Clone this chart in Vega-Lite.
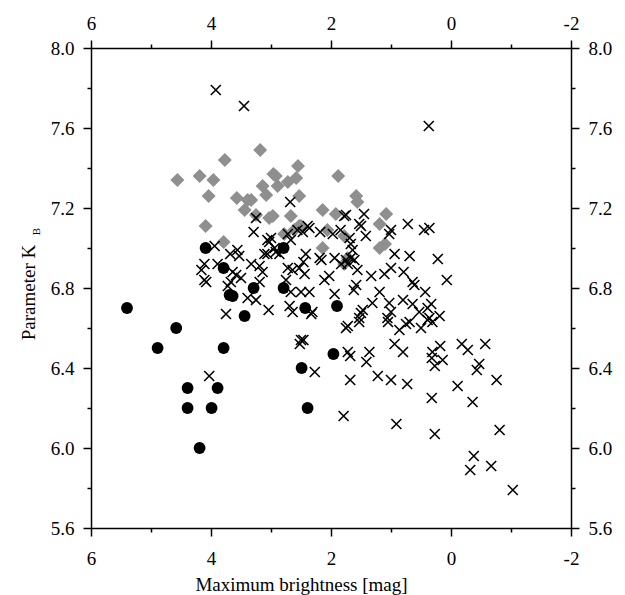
{
  "$schema": "https://vega.github.io/schema/vega-lite/v6.json",
  "width": 480,
  "height": 480,
  "autosize": "none",
  "padding": {"left": 91, "top": 48, "right": 54, "bottom": 67},
  "background": "white",
  "config": {
    "view": {"stroke": null},
    "axis": {
      "grid": false,
      "domainColor": "black",
      "domainWidth": 1.5,
      "tickColor": "black",
      "tickWidth": 1.5,
      "labelFont": "Liberation Serif",
      "labelFontSize": 19,
      "labelColor": "black",
      "titleFont": "Liberation Serif",
      "titleFontSize": 19,
      "titleFontWeight": "normal",
      "titleColor": "black",
      "labelFlush": false,
      "labelOverlap": false
    }
  },
  "data": {
    "values": [
      {"group": "circle", "mag": 5.4, "kb": 6.7},
      {"group": "circle", "mag": 4.58, "kb": 6.6},
      {"group": "circle", "mag": 4.89, "kb": 6.5},
      {"group": "circle", "mag": 3.79, "kb": 6.5},
      {"group": "circle", "mag": 4.39, "kb": 6.3},
      {"group": "circle", "mag": 3.89, "kb": 6.3},
      {"group": "circle", "mag": 4.39, "kb": 6.2},
      {"group": "circle", "mag": 3.99, "kb": 6.2},
      {"group": "circle", "mag": 4.19, "kb": 6.0},
      {"group": "circle", "mag": 2.39, "kb": 6.2},
      {"group": "circle", "mag": 2.49, "kb": 6.4},
      {"group": "circle", "mag": 3.44, "kb": 6.66},
      {"group": "circle", "mag": 3.64, "kb": 6.76},
      {"group": "circle", "mag": 3.69, "kb": 6.765},
      {"group": "circle", "mag": 3.29, "kb": 6.8},
      {"group": "circle", "mag": 2.79, "kb": 6.8},
      {"group": "circle", "mag": 2.43, "kb": 6.7},
      {"group": "circle", "mag": 4.09, "kb": 7.0},
      {"group": "circle", "mag": 3.79, "kb": 6.9},
      {"group": "circle", "mag": 2.79, "kb": 7.0},
      {"group": "circle", "mag": 1.9, "kb": 6.71},
      {"group": "circle", "mag": 1.96, "kb": 6.47},

      {"group": "diamond", "mag": 4.56, "kb": 7.34},
      {"group": "diamond", "mag": 4.19, "kb": 7.36},
      {"group": "diamond", "mag": 3.77, "kb": 7.44},
      {"group": "diamond", "mag": 3.96, "kb": 7.34},
      {"group": "diamond", "mag": 4.04, "kb": 7.26},
      {"group": "diamond", "mag": 4.09, "kb": 7.11},
      {"group": "diamond", "mag": 3.79, "kb": 7.03},
      {"group": "diamond", "mag": 3.57, "kb": 7.25},
      {"group": "diamond", "mag": 3.39, "kb": 7.24},
      {"group": "diamond", "mag": 3.44, "kb": 7.19},
      {"group": "diamond", "mag": 3.14, "kb": 7.31},
      {"group": "diamond", "mag": 3.18, "kb": 7.49},
      {"group": "diamond", "mag": 2.96, "kb": 7.37},
      {"group": "diamond", "mag": 2.92, "kb": 7.36},
      {"group": "diamond", "mag": 3.03, "kb": 7.15},
      {"group": "diamond", "mag": 3.25, "kb": 7.165},
      {"group": "diamond", "mag": 3.08, "kb": 7.265},
      {"group": "diamond", "mag": 2.89, "kb": 7.31},
      {"group": "diamond", "mag": 2.72, "kb": 7.33},
      {"group": "diamond", "mag": 2.58, "kb": 7.35},
      {"group": "diamond", "mag": 2.55, "kb": 7.41},
      {"group": "diamond", "mag": 2.53, "kb": 7.26},
      {"group": "diamond", "mag": 2.67, "kb": 7.16},
      {"group": "diamond", "mag": 2.53, "kb": 7.11},
      {"group": "diamond", "mag": 2.78, "kb": 7.07},
      {"group": "diamond", "mag": 2.61, "kb": 7.09},
      {"group": "diamond", "mag": 2.97, "kb": 7.16},
      {"group": "diamond", "mag": 1.88, "kb": 7.36},
      {"group": "diamond", "mag": 1.58, "kb": 7.26},
      {"group": "diamond", "mag": 1.56, "kb": 7.23},
      {"group": "diamond", "mag": 2.14, "kb": 7.19},
      {"group": "diamond", "mag": 1.92, "kb": 7.17},
      {"group": "diamond", "mag": 1.08, "kb": 7.17},
      {"group": "diamond", "mag": 1.19, "kb": 7.12},
      {"group": "diamond", "mag": 1.1, "kb": 7.02},
      {"group": "diamond", "mag": 1.19, "kb": 7.0},
      {"group": "diamond", "mag": 2.14, "kb": 7.0},
      {"group": "diamond", "mag": 2.06, "kb": 7.09},
      {"group": "diamond", "mag": 1.78, "kb": 7.06},
      {"group": "diamond", "mag": 1.78, "kb": 6.92},
      {"group": "diamond", "mag": 1.72, "kb": 6.95},
      {"group": "diamond", "mag": 2.5, "kb": 7.11},
      {"group": "diamond", "mag": 3.33, "kb": 7.24},

      {"group": "cross", "mag": 3.92, "kb": 7.79},
      {"group": "cross", "mag": 3.45, "kb": 7.71},
      {"group": "cross", "mag": 0.37, "kb": 7.61},
      {"group": "cross", "mag": 2.68, "kb": 7.23},
      {"group": "cross", "mag": 1.78, "kb": 7.16},
      {"group": "cross", "mag": 1.45, "kb": 7.17},
      {"group": "cross", "mag": 1.53, "kb": 7.12},
      {"group": "cross", "mag": 0.72, "kb": 7.12},
      {"group": "cross", "mag": 3.25, "kb": 7.15},
      {"group": "cross", "mag": 2.39, "kb": 7.11},
      {"group": "cross", "mag": 0.45, "kb": 7.09},
      {"group": "cross", "mag": 0.36, "kb": 7.1},
      {"group": "cross", "mag": 0.69, "kb": 6.96},
      {"group": "cross", "mag": 0.22, "kb": 6.945},
      {"group": "cross", "mag": 0.79, "kb": 6.88},
      {"group": "cross", "mag": 0.07, "kb": 6.84},
      {"group": "cross", "mag": 0.64, "kb": 6.83},
      {"group": "cross", "mag": 0.61, "kb": 6.815},
      {"group": "cross", "mag": 0.43, "kb": 6.78},
      {"group": "cross", "mag": 0.8, "kb": 6.74},
      {"group": "cross", "mag": 0.64, "kb": 6.72},
      {"group": "cross", "mag": 0.33, "kb": 6.72},
      {"group": "cross", "mag": 0.53, "kb": 6.68},
      {"group": "cross", "mag": 0.39, "kb": 6.7},
      {"group": "cross", "mag": 0.19, "kb": 6.66},
      {"group": "cross", "mag": 0.36, "kb": 6.65},
      {"group": "cross", "mag": 0.31, "kb": 6.63},
      {"group": "cross", "mag": 0.39, "kb": 6.64},
      {"group": "cross", "mag": 0.75, "kb": 6.62},
      {"group": "cross", "mag": 0.5, "kb": 6.6},
      {"group": "cross", "mag": 1.75, "kb": 6.6},
      {"group": "cross", "mag": 1.72, "kb": 6.61},
      {"group": "cross", "mag": 1.53, "kb": 6.63},
      {"group": "cross", "mag": 1.05, "kb": 6.63},
      {"group": "cross", "mag": 0.86, "kb": 6.59},
      {"group": "cross", "mag": 2.46, "kb": 6.54},
      {"group": "cross", "mag": 1.72, "kb": 6.48},
      {"group": "cross", "mag": 1.68, "kb": 6.46},
      {"group": "cross", "mag": 1.36, "kb": 6.48},
      {"group": "cross", "mag": 1.41, "kb": 6.43},
      {"group": "cross", "mag": 0.94, "kb": 6.52},
      {"group": "cross", "mag": 0.8, "kb": 6.48},
      {"group": "cross", "mag": 0.18, "kb": 6.51},
      {"group": "cross", "mag": 0.31, "kb": 6.48},
      {"group": "cross", "mag": 0.32, "kb": 6.45},
      {"group": "cross", "mag": 0.14, "kb": 6.44},
      {"group": "cross", "mag": 0.27, "kb": 6.41},
      {"group": "cross", "mag": -0.18, "kb": 6.52},
      {"group": "cross", "mag": -0.28, "kb": 6.49},
      {"group": "cross", "mag": -0.57, "kb": 6.52},
      {"group": "cross", "mag": -0.47, "kb": 6.42},
      {"group": "cross", "mag": -0.43, "kb": 6.39},
      {"group": "cross", "mag": -0.76, "kb": 6.34},
      {"group": "cross", "mag": 2.27, "kb": 6.38},
      {"group": "cross", "mag": 1.68, "kb": 6.34},
      {"group": "cross", "mag": 1.22, "kb": 6.36},
      {"group": "cross", "mag": 1.0, "kb": 6.34},
      {"group": "cross", "mag": 0.73, "kb": 6.32},
      {"group": "cross", "mag": -0.11, "kb": 6.31},
      {"group": "cross", "mag": 0.32, "kb": 6.25},
      {"group": "cross", "mag": -0.36, "kb": 6.23},
      {"group": "cross", "mag": 1.79, "kb": 6.16},
      {"group": "cross", "mag": 0.91, "kb": 6.12},
      {"group": "cross", "mag": 0.27, "kb": 6.07},
      {"group": "cross", "mag": -0.81, "kb": 6.09},
      {"group": "cross", "mag": -0.38, "kb": 5.96},
      {"group": "cross", "mag": -0.32, "kb": 5.89},
      {"group": "cross", "mag": -0.67, "kb": 5.91},
      {"group": "cross", "mag": -1.03, "kb": 5.79},
      {"group": "cross", "mag": 4.03, "kb": 6.36},
      {"group": "cross", "mag": 3.75, "kb": 6.67},
      {"group": "cross", "mag": 3.39, "kb": 6.75},
      {"group": "cross", "mag": 3.25, "kb": 6.74},
      {"group": "cross", "mag": 3.04, "kb": 6.69},
      {"group": "cross", "mag": 2.69, "kb": 6.71},
      {"group": "cross", "mag": 2.64, "kb": 6.68},
      {"group": "cross", "mag": 2.5, "kb": 6.54},
      {"group": "cross", "mag": 2.52, "kb": 6.52},
      {"group": "cross", "mag": 3.72, "kb": 6.81},
      {"group": "cross", "mag": 4.08, "kb": 6.83},
      {"group": "cross", "mag": 2.67, "kb": 6.78},
      {"group": "cross", "mag": 2.5, "kb": 6.78},
      {"group": "cross", "mag": 2.36, "kb": 6.78},
      {"group": "cross", "mag": 2.33, "kb": 6.67},
      {"group": "cross", "mag": 2.31, "kb": 6.68},
      {"group": "cross", "mag": 3.29, "kb": 7.08},
      {"group": "cross", "mag": 3.94, "kb": 7.01},
      {"group": "cross", "mag": 3.68, "kb": 6.97},
      {"group": "cross", "mag": 3.56, "kb": 6.99},
      {"group": "cross", "mag": 3.53, "kb": 6.96},
      {"group": "cross", "mag": 4.11, "kb": 6.92},
      {"group": "cross", "mag": 4.16, "kb": 6.89},
      {"group": "cross", "mag": 4.11, "kb": 6.84},
      {"group": "cross", "mag": 3.89, "kb": 6.92},
      {"group": "cross", "mag": 3.64, "kb": 6.88},
      {"group": "cross", "mag": 3.58, "kb": 6.865},
      {"group": "cross", "mag": 3.5, "kb": 6.85},
      {"group": "cross", "mag": 3.67, "kb": 6.83},
      {"group": "cross", "mag": 3.33, "kb": 6.92},
      {"group": "cross", "mag": 3.19, "kb": 6.91},
      {"group": "cross", "mag": 3.19, "kb": 6.83},
      {"group": "cross", "mag": 3.11, "kb": 6.97},
      {"group": "cross", "mag": 3.03, "kb": 7.03},
      {"group": "cross", "mag": 2.94, "kb": 7.0},
      {"group": "cross", "mag": 2.72, "kb": 7.07},
      {"group": "cross", "mag": 2.67, "kb": 7.04},
      {"group": "cross", "mag": 2.72, "kb": 6.9},
      {"group": "cross", "mag": 2.64, "kb": 6.89},
      {"group": "cross", "mag": 2.75, "kb": 6.84},
      {"group": "cross", "mag": 3.0, "kb": 7.05},
      {"group": "cross", "mag": 2.86, "kb": 6.97},
      {"group": "cross", "mag": 3.14, "kb": 6.88},
      {"group": "cross", "mag": 3.06, "kb": 7.04},
      {"group": "cross", "mag": 2.92, "kb": 6.98},
      {"group": "cross", "mag": 3.06, "kb": 6.97},
      {"group": "cross", "mag": 1.75, "kb": 7.165},
      {"group": "cross", "mag": 1.5, "kb": 7.11},
      {"group": "cross", "mag": 1.03, "kb": 7.07},
      {"group": "cross", "mag": 1.0, "kb": 7.09},
      {"group": "cross", "mag": 1.42, "kb": 7.06},
      {"group": "cross", "mag": 1.84, "kb": 7.09},
      {"group": "cross", "mag": 1.97, "kb": 7.07},
      {"group": "cross", "mag": 2.18, "kb": 7.08},
      {"group": "cross", "mag": 2.36, "kb": 7.1},
      {"group": "cross", "mag": 2.47, "kb": 7.08},
      {"group": "cross", "mag": 2.56, "kb": 7.09},
      {"group": "cross", "mag": 1.69, "kb": 7.05},
      {"group": "cross", "mag": 1.67, "kb": 7.02},
      {"group": "cross", "mag": 1.64, "kb": 6.99},
      {"group": "cross", "mag": 2.42, "kb": 6.97},
      {"group": "cross", "mag": 2.46, "kb": 6.93},
      {"group": "cross", "mag": 2.19, "kb": 6.95},
      {"group": "cross", "mag": 2.16, "kb": 6.94},
      {"group": "cross", "mag": 1.94, "kb": 6.95},
      {"group": "cross", "mag": 1.83, "kb": 6.92},
      {"group": "cross", "mag": 1.75, "kb": 6.94},
      {"group": "cross", "mag": 1.67, "kb": 6.95},
      {"group": "cross", "mag": 1.61, "kb": 6.94},
      {"group": "cross", "mag": 1.72, "kb": 6.92},
      {"group": "cross", "mag": 1.56, "kb": 6.89},
      {"group": "cross", "mag": 0.94, "kb": 6.97},
      {"group": "cross", "mag": 1.11, "kb": 6.87},
      {"group": "cross", "mag": 1.0, "kb": 6.9},
      {"group": "cross", "mag": 2.53, "kb": 6.9},
      {"group": "cross", "mag": 2.44, "kb": 6.87},
      {"group": "cross", "mag": 2.11, "kb": 6.84},
      {"group": "cross", "mag": 2.03, "kb": 6.86},
      {"group": "cross", "mag": 1.33, "kb": 6.86},
      {"group": "cross", "mag": 1.58, "kb": 6.815},
      {"group": "cross", "mag": 1.94, "kb": 6.77},
      {"group": "cross", "mag": 1.19, "kb": 6.78},
      {"group": "cross", "mag": 1.31, "kb": 6.725},
      {"group": "cross", "mag": 1.47, "kb": 6.69},
      {"group": "cross", "mag": 1.5, "kb": 6.675},
      {"group": "cross", "mag": 1.53, "kb": 6.65},
      {"group": "cross", "mag": 1.03, "kb": 6.725},
      {"group": "cross", "mag": 1.0, "kb": 6.68},
      {"group": "cross", "mag": 1.06, "kb": 6.65},
      {"group": "cross", "mag": 0.69, "kb": 6.63},
      {"group": "cross", "mag": 1.62, "kb": 6.79}
    ]
  },
  "resolve": {"axis": {"x": "independent", "y": "independent"}},
  "layer": [
    {
      "transform": [{"filter": "datum.group === 'diamond'"}],
      "mark": {"type": "point", "shape": "diamond", "filled": true, "color": "#8f8f8f", "size": 196, "opacity": 1},
      "encoding": {
        "x": {
          "field": "mag", "type": "quantitative",
          "scale": {"domain": [-2, 6], "reverse": true, "nice": false, "zero": false},
          "axis": {
            "orient": "bottom",
            "values": [-2, 0, 2, 4, 6],
            "labelExpr": "'' + datum.value",
            "tickSize": 8,
            "labelPadding": 13,
            "title": "Maximum brightness [mag]",
            "titleX": 210,
            "titleY": 62,
            "titleBaseline": "alphabetic",
            "titleAlign": "center"
          }
        },
        "y": {
          "field": "kb", "type": "quantitative",
          "scale": {"domain": [5.6, 8.0], "nice": false, "zero": false},
          "axis": {
            "orient": "left",
            "values": [5.6, 6.0, 6.4, 6.8, 7.2, 7.6, 8.0],
            "format": ".1f",
            "tickSize": 8,
            "labelPadding": 9,
            "title": "Parameter K",
            "titleX": -57,
            "titleY": 244,
            "titleAngle": 270,
            "titleAlign": "center",
            "titleBaseline": "alphabetic"
          }
        }
      }
    },
    {
      "transform": [{"filter": "datum.group === 'circle'"}],
      "mark": {"type": "point", "shape": "circle", "filled": true, "color": "black", "size": 140, "opacity": 1},
      "encoding": {
        "x": {
          "field": "mag", "type": "quantitative",
          "scale": {"domain": [-2, 6], "reverse": true, "nice": false, "zero": false},
          "axis": {
            "orient": "top",
            "values": [-2, 0, 2, 4, 6],
            "labelExpr": "'' + datum.value",
            "tickSize": 8,
            "labelPadding": 7,
            "title": null
          }
        },
        "y": {
          "field": "kb", "type": "quantitative",
          "scale": {"domain": [5.6, 8.0], "nice": false, "zero": false},
          "axis": {
            "orient": "right",
            "values": [5.6, 6.0, 6.4, 6.8, 7.2, 7.6, 8.0],
            "format": ".1f",
            "tickSize": 8,
            "labelPadding": 9,
            "title": null
          }
        }
      }
    },
    {
      "transform": [{"filter": "datum.group === 'cross'"}],
      "mark": {"type": "point", "shape": "M-1,-1L1,1M1,-1L-1,1", "filled": false, "stroke": "black", "strokeWidth": 1.6, "size": 100, "opacity": 1},
      "encoding": {
        "x": {
          "field": "mag", "type": "quantitative",
          "scale": {"domain": [-2, 6], "reverse": true, "nice": false, "zero": false},
          "axis": {"orient": "bottom", "values": [-1, 1, 3, 5], "tickSize": 4, "labels": false, "domain": false, "title": null}
        },
        "y": {
          "field": "kb", "type": "quantitative",
          "scale": {"domain": [5.6, 8.0], "nice": false, "zero": false},
          "axis": {"orient": "left", "values": [5.8, 6.2, 6.6, 7.0, 7.4, 7.8], "tickSize": 4, "labels": false, "domain": false, "title": null}
        }
      }
    },
    {
      "data": {"values": [{"sub": "B"}]},
      "mark": {"type": "text", "font": "Liberation Serif", "fontSize": 11, "angle": 270, "align": "center", "baseline": "alphabetic", "color": "black"},
      "encoding": {
        "x": {
          "datum": 6.858, "type": "quantitative",
          "axis": {"orient": "top", "values": [-1, 1, 3, 5], "tickSize": 4, "labels": false, "domain": false, "title": null}
        },
        "y": {
          "datum": 7.0825, "type": "quantitative",
          "axis": {"orient": "right", "values": [5.8, 6.2, 6.6, 7.0, 7.4, 7.8], "tickSize": 4, "labels": false, "domain": false, "title": null}
        },
        "text": {"field": "sub"}
      }
    }
  ]
}
